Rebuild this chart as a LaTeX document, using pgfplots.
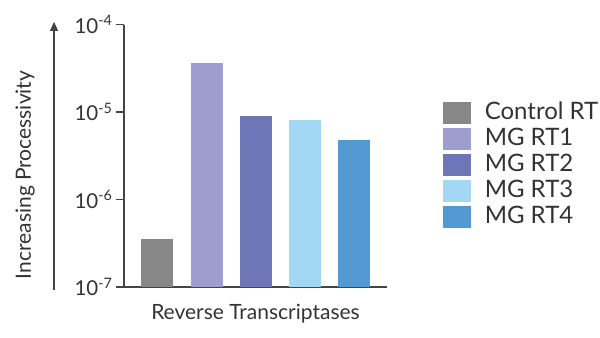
\documentclass[border=0pt]{standalone}
\usepackage{pgfplots}
\pgfplotsset{compat=1.18}
\usepackage{fontspec}
\setmainfont{Lato}
\usetikzlibrary{arrows.meta}
\definecolor{cctrl}{HTML}{878787}
\definecolor{crt1}{HTML}{9D9DCF}
\definecolor{crt2}{HTML}{6E76B8}
\definecolor{crt3}{HTML}{A3D8F4}
\definecolor{crt4}{HTML}{5599D3}
\definecolor{axc}{HTML}{444444}
\definecolor{txt}{HTML}{333333}
\pgfplotsset{ybar legend/.style={legend image code/.code={\fill[##1] (0bp,-11bp) rectangle (28bp,11bp);}}}
\begin{document}
\begin{tikzpicture}
\useasboundingbox (-124bp,-51bp) rectangle (476bp,287bp);
\begin{axis}[
  at={(0,0)}, anchor=south west,
  scale only axis, width=263bp, height=262.5bp,
  clip=false,
  ymode=log, log origin=infty,
  ymin=1e-7, ymax=1e-4,
  xmin=-0.68, xmax=4.66,
  axis x line*=bottom, axis y line*=left,
  axis line style={draw=axc, line width=1.1bp},
  xtick=\empty,
  ytick={1e-7,1e-6,1e-5,1e-4},
  yticklabels={10\textsuperscript{-7},10\textsuperscript{-6},10\textsuperscript{-5},10\textsuperscript{-4}},
  yminorticks=false,
  tick align=outside, major tick length=8bp,
  tick style={draw=axc, line width=1.1bp},
  yticklabel style={font=\fontsize{20.5bp}{22bp}\selectfont, text=txt},
  ybar, bar width=32bp, bar shift=0pt,
  xlabel={Reverse Transcriptases},
  xlabel style={at={(rel axis cs:0.5,-0.1)}, anchor=center, font=\fontsize{21bp}{23bp}\selectfont, text=txt},
  ylabel={Increasing Processivity},
  ylabel style={at={(rel axis cs:-0.376,0.427)}, anchor=center, font=\fontsize{21bp}{23bp}\selectfont, text=txt},
  legend style={at={(rel axis cs:1.2,0.712)}, anchor=north west, draw=none, fill=none,
    font=\fontsize{24bp}{26bp}\selectfont, text=txt, row sep=4bp, column sep=14bp,
    nodes={inner sep=0pt, text height=17bp, text depth=5bp}},
  legend cell align=left,
]
\addplot[fill=cctrl, draw=none] coordinates {(0,3.56e-7)};
\addplot[fill=crt1, draw=none] coordinates {(1,3.64e-5)};
\addplot[fill=crt2, draw=none] coordinates {(2,8.96e-6)};
\addplot[fill=crt3, draw=none] coordinates {(3,8.0e-6)};
\addplot[fill=crt4, draw=none] coordinates {(4,4.77e-6)};
\legend{Control RT, MG RT1, MG RT2, MG RT3, MG RT4}
\draw[axc, line width=1.1bp, -{Triangle[length=9bp,width=8bp]}] (rel axis cs:-0.266,-0.011) -- (rel axis cs:-0.266,1.01);
\end{axis}
\end{tikzpicture}
\end{document}
